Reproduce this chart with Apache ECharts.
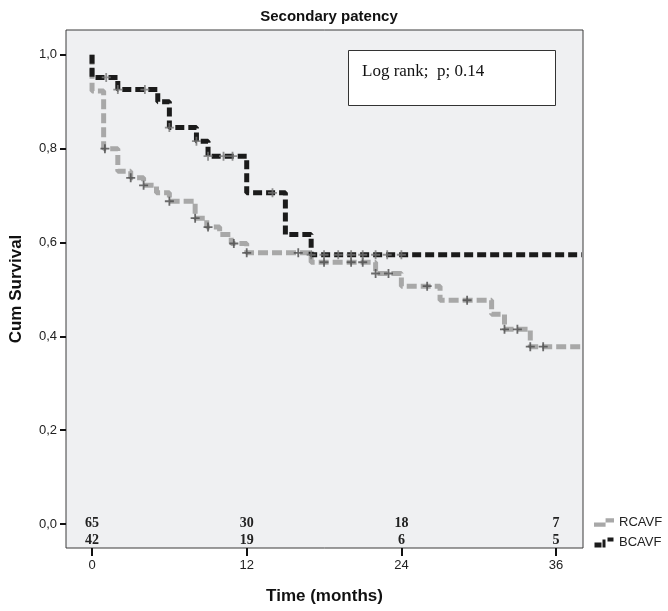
<!DOCTYPE html>
<html><head><meta charset="utf-8">
<script src="https://cdn.jsdelivr.net/npm/echarts@6/dist/echarts.min.js"></script>
<style>html,body{margin:0;padding:0;background:#fff}#c{width:668px;height:611px}</style>
</head><body><div id="c"></div>
<script>
// ---- data ----
const tickTimes = [0, 12, 24, 36];
const yTicks = [0, 0.2, 0.4, 0.6, 0.8, 1.0];
const riskRCAVF = [65, 30, 18, 7];
const riskBCAVF = [42, 19, 6, 5];

const rcavfTime = [0, 0, 0.9, 2, 3, 4, 5, 6, 8, 8.9, 9.9, 10.8, 12, 17, 22, 24, 27, 31, 32, 34, 38];
const rcavfSurv = [1, 0.923, 0.80, 0.752, 0.738, 0.722, 0.706, 0.688, 0.652, 0.633, 0.617, 0.598, 0.578, 0.558, 0.534, 0.507, 0.477, 0.447, 0.415, 0.378, 0.378];
const bcavfTime = [0, 0, 2, 5.1, 6, 8.1, 9, 12, 15, 17, 38];
const bcavfSurv = [1, 0.952, 0.926, 0.90, 0.845, 0.816, 0.784, 0.706, 0.617, 0.574, 0.574];

const rcavfCensTime = [1.0, 3.0, 4.0, 6.0, 8.0, 9.0, 11.0, 12.0, 16.0, 18.0, 20.1, 21.0, 22.0, 23.0, 26.0, 29.1, 32.0, 33.0, 34.0, 35.0];
const rcavfCensSurv = [0.80, 0.738, 0.722, 0.688, 0.652, 0.633, 0.598, 0.578, 0.578, 0.558, 0.558, 0.558, 0.534, 0.534, 0.507, 0.477, 0.415, 0.415, 0.378, 0.378];
const bcavfCensTime = [1.1, 2.0, 4.1, 6.0, 8.1, 9.0, 10.2, 10.9, 14.0, 17.0, 18.0, 19.1, 20.1, 21.0, 22.0, 22.9, 24.0];
const bcavfCensSurv = [0.952, 0.926, 0.926, 0.845, 0.816, 0.784, 0.784, 0.784, 0.706, 0.574, 0.574, 0.574, 0.574, 0.574, 0.574, 0.574, 0.574];

// ---- chart ----
const GRAY = '#a8a8a8', BLACK = '#1b1b1b';
const NARROW = '"Liberation Sans Narrow", "Liberation Sans", Arial, sans-serif';
const SANS = '"Liberation Sans", Arial, sans-serif';
const plus = 'path://M4,0h2v4h4v2h-4v4h-2v-4h-4v-2h4z';
const zip = (a, b) => a.map((v, i) => [v, b[i]]);

const chart = echarts.init(document.getElementById('c'), null, {renderer: 'canvas'});
chart.setOption({
  animation: false,
  title: {
    text: 'Secondary patency', left: 324, top: 4, textAlign: 'center',
    textStyle: {fontFamily: SANS, fontWeight: 'bold', fontSize: 15, color: '#111'}
  },
  grid: {left: 66, top: 30, right: 85, bottom: 63, show: true,
         backgroundColor: '#eff0f2', borderColor: '#3a3a3a', borderWidth: 1},
  xAxis: {
    type: 'value', min: -2.02, max: 38.09,
    splitLine: {show: false}, axisLine: {show: false, onZero: false},
    axisTick: {show: true, customValues: tickTimes, length: 8, lineStyle: {width: 2, color: '#111'}},
    axisLabel: {customValues: tickTimes, margin: 11, fontFamily: NARROW, fontSize: 13, color: '#222'},
    name: 'Time (months)', nameLocation: 'middle', nameGap: 40,
    nameTextStyle: {fontFamily: SANS, fontWeight: 'bold', fontSize: 17, color: '#111'}
  },
  yAxis: {
    type: 'value', min: -0.051, max: 1.053,
    splitLine: {show: false}, axisLine: {show: false, onZero: false},
    axisTick: {show: true, customValues: yTicks, length: 6, lineStyle: {width: 2, color: '#111'}},
    axisLabel: {customValues: yTicks, margin: 9, fontFamily: NARROW, fontSize: 13, color: '#222',
                formatter: v => v.toFixed(1).replace('.', ',')},
    name: 'Cum Survival', nameLocation: 'middle', nameGap: 41, nameRotate: 90,
    nameTextStyle: {fontFamily: SANS, fontWeight: 'bold', fontSize: 17, color: '#111'}
  },
  legend: {
    orient: 'vertical', left: 594, top: 516, itemGap: 7, itemWidth: 20, itemHeight: 10, padding: 0,
    itemStyle: {borderWidth: 0},
    textStyle: {fontFamily: NARROW, fontSize: 13, color: '#222'},
    data: [
      {name: 'RCAVF', icon: 'path://M0,6h11v4h-11z M11,2h8v4h-8z'},
      {name: 'BCAVF', icon: 'path://M0,5h7v5h-7z M8,2h3v8h-3z M13,0h6v4h-6z'}
    ]
  },
  series: [
    {name: 'RCAVF', type: 'line', step: 'end', data: zip(rcavfTime, rcavfSurv), symbol: 'none',
     lineStyle: {color: GRAY, width: 5, type: [10, 4], cap: 'butt'}, itemStyle: {color: GRAY}, z: 2},
    {name: 'BCAVF', type: 'line', step: 'end', data: zip(bcavfTime, bcavfSurv), symbol: 'none',
     lineStyle: {color: BLACK, width: 5, type: [9, 4], cap: 'butt'}, itemStyle: {color: BLACK}, z: 3},
    {type: 'scatter', data: zip(rcavfCensTime, rcavfCensSurv), symbol: plus, symbolSize: 9,
     itemStyle: {color: '#4a4a4a'}, z: 4},
    {type: 'scatter', data: zip(bcavfCensTime, bcavfCensSurv), symbol: plus, symbolSize: 9,
     itemStyle: {color: '#777'}, z: 4}
  ]
});

// number-at-risk rows, placed on the library's x scale
const riskFont = 'bold 14px "Liberation Serif", "Times New Roman", serif';
const riskTexts = [];
[[riskRCAVF, 0.002], [riskBCAVF, -0.034]].forEach(([counts, yv]) => {
  tickTimes.forEach((t, i) => {
    const p = chart.convertToPixel({gridIndex: 0}, [t, yv]);
    riskTexts.push({type: 'text', x: p[0], y: p[1], z: 20,
      style: {text: String(counts[i]), font: riskFont, fill: '#222', align: 'center', verticalAlign: 'middle'}});
  });
});
chart.setOption({
  graphic: [
    {type: 'rect', shape: {x: 348.5, y: 50.5, width: 207, height: 55},
     style: {fill: '#fff', stroke: '#333', lineWidth: 1}, z: 10},
    {type: 'text', x: 362, y: 72, z: 11,
     style: {text: 'Log rank;  p; 0.14', font: '17px "Liberation Serif", serif', fill: '#111', verticalAlign: 'middle'}}
  ].concat(riskTexts)
});
</script></body></html>
